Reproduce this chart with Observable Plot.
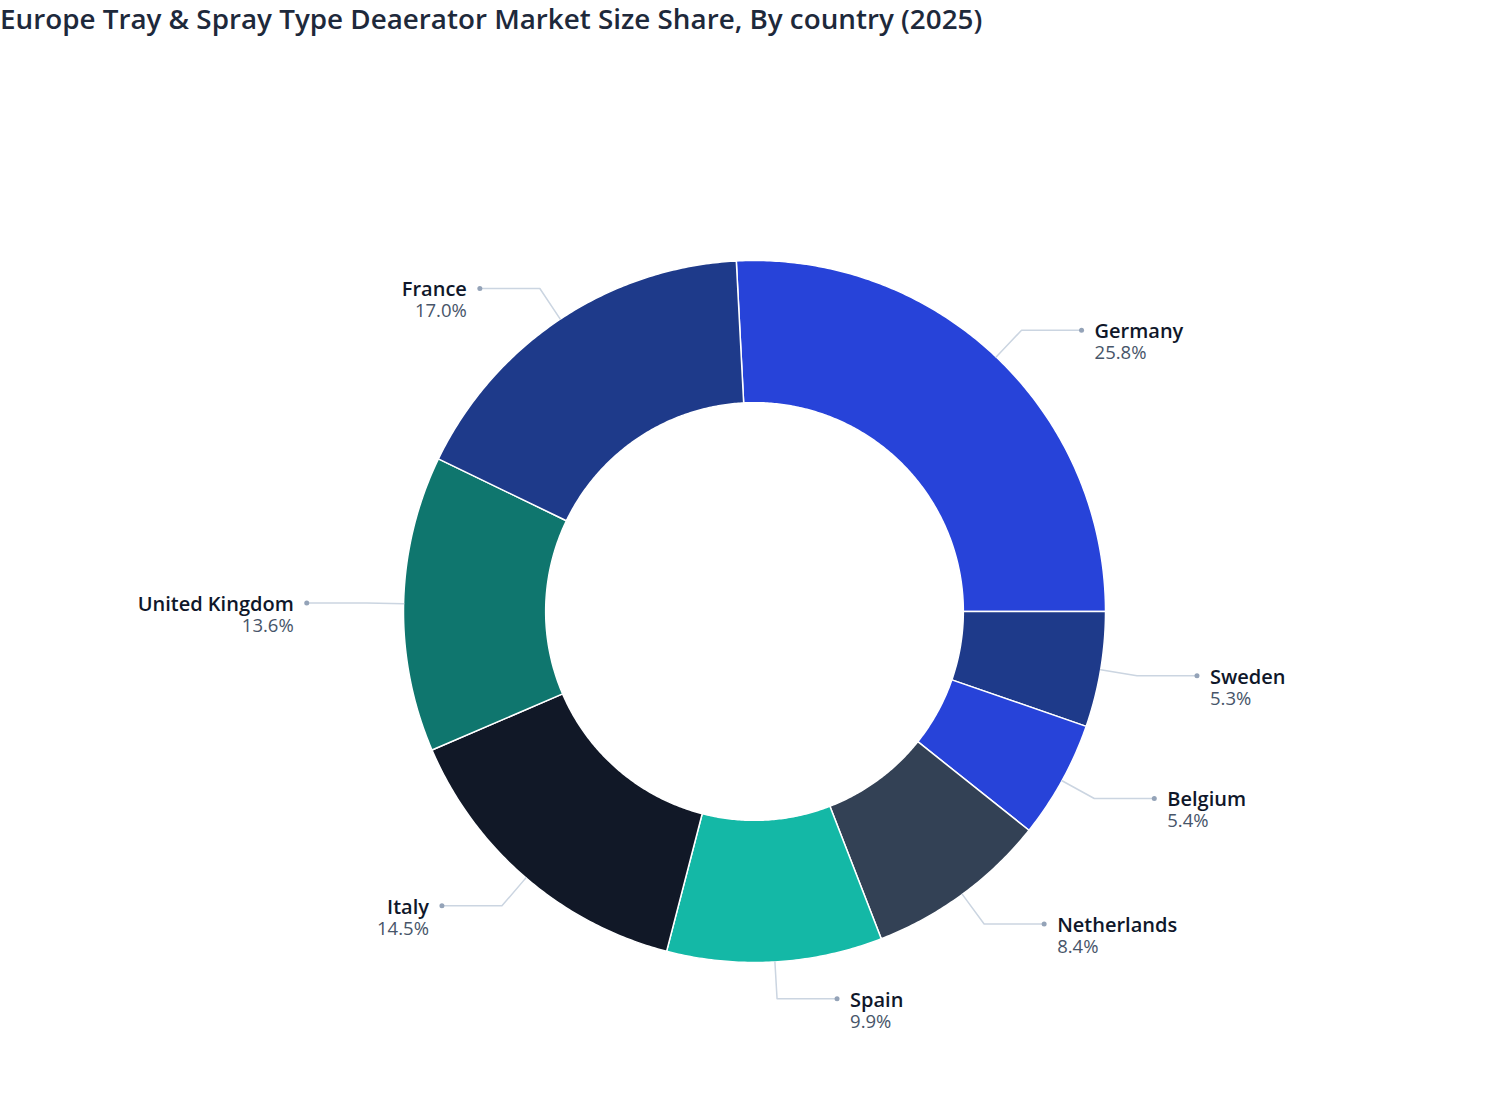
<!DOCTYPE html>
<html><head><meta charset="utf-8">
<script src="https://cdn.jsdelivr.net/npm/d3@7"></script>
<script src="https://cdn.jsdelivr.net/npm/@observablehq/plot@0.6"></script>
<style>
html,body{margin:0;padding:0;background:#fff;}
body{font-family:"Open Sans",sans-serif;width:1508px;}
#title{height:40px;font-size:27.8px;font-weight:600;color:#1e293b;line-height:36px;white-space:nowrap;}
#chart svg{display:block;}
</style></head><body>
<div id="title">Europe Tray &amp; Spray Type Deaerator Market Size Share, By country (2025)</div>
<div id="chart"></div>
<script>
const countries = ["Germany","Sweden","Belgium","Netherlands","Spain","Italy","United Kingdom","France"];
const shares = [25.8, 5.3, 5.4, 8.4, 9.9, 14.5, 13.6, 17.0];
const colors = ["#2743d9","#1e3a8a","#2743d9","#334155","#14b8a6","#111827","#0f766e","#1e3a8a"];

const W = 1508, H = 1080, PX = 351;   // pixels per unit radius
const R = 1, r0 = 0.595;
const cxPx = 754, cyPx = 571;
const total = d3.sum(shares);
const startAngle = Math.PI / 2 - shares[0] / total * 2 * Math.PI;

const polys = [], leaders = [], labels = [];
let a = startAngle;
countries.forEach((c, i) => {
  const a0 = a, a1 = a + shares[i] / total * 2 * Math.PI;
  a = a1;
  const n = Math.max(4, Math.ceil((a1 - a0) / (Math.PI / 360)));
  const pts = [];
  for (let k = 0; k <= n; k++) { const t = a0 + (a1 - a0) * k / n; pts.push([R * Math.sin(t), R * Math.cos(t)]); }
  for (let k = n; k >= 0; k--) { const t = a0 + (a1 - a0) * k / n; pts.push([r0 * Math.sin(t), r0 * Math.cos(t)]); }
  pts.push(pts[0]);
  pts.forEach(([x, y], j) => polys.push({country: c, x, y, j}));
  const m = (a0 + a1) / 2;
  const side = Math.sin(m) >= 0 ? 1 : -1;
  const p0 = [R * Math.sin(m), R * Math.cos(m)];
  const p1 = [1.105 * R * Math.sin(m), 1.105 * R * Math.cos(m)];
  const p2 = [p1[0] + side * 60 / PX, p1[1]];
  [p0, p1, p2].forEach(([x, y]) => leaders.push({country: c, x, y}));
  labels.push({country: c, pct: shares[i].toFixed(1) + "%", x: p2[0], y: p2[1], side});
});

const right = labels.filter(d => d.side > 0), left = labels.filter(d => d.side < 0);
const textMarks = (data, anchor, dx) => [
  Plot.text(data, {x: "x", y: "y", text: "country", textAnchor: anchor, dx, dy: 1.5, fontSize: 20, fontWeight: 600, fill: "#0f172a", fontFamily: "Open Sans"}),
  Plot.text(data, {x: "x", y: "y", text: "pct", textAnchor: anchor, dx, dy: 23, fontSize: 18.5, fill: "#475569", fontFamily: "Open Sans"})
];

const chart = Plot.plot({
  width: W, height: H,
  margin: 0,
  x: {domain: [-cxPx / PX, (W - cxPx) / PX], axis: null},
  y: {domain: [-(H - cyPx) / PX, cyPx / PX], axis: null},
  color: {domain: countries, range: colors},
  style: {background: "#fff", fontFamily: "Open Sans"},
  marks: [
    Plot.line(polys, {x: "x", y: "y", z: "country", fill: "country", stroke: "#ffffff", strokeWidth: 1.5, curve: "linear"}),
    Plot.line(leaders, {x: "x", y: "y", z: "country", stroke: "#cbd5e1", strokeWidth: 1.5}),
    Plot.dot(labels, {x: "x", y: "y", r: 2.5, fill: "#94a3b8"}),
    ...textMarks(right, "start", 13),
    ...textMarks(left, "end", -13)
  ]
});
document.getElementById("chart").appendChild(chart);
</script>
</body></html>
